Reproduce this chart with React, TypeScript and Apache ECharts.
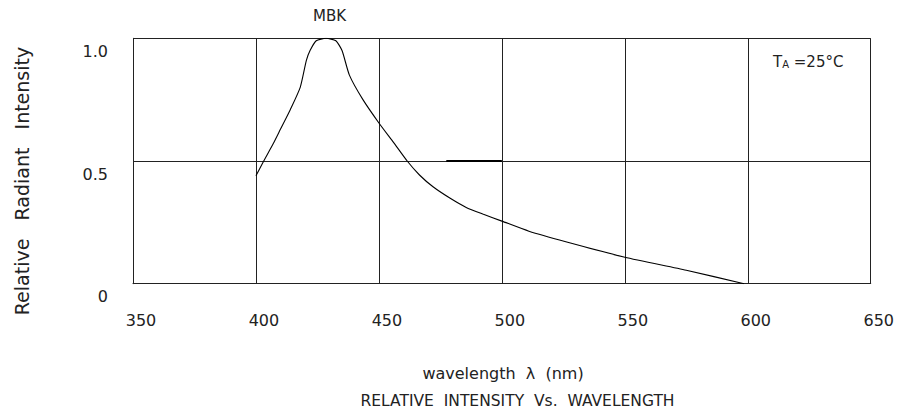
import React, { useEffect, useRef } from "react";
import * as echarts from "echarts";

const wavelengths = [400, 403, 407, 410, 414, 418, 420.5, 422, 424.5, 428.5, 432.5, 435, 438, 443.5, 450, 456, 461.5, 466.5, 472, 479, 485.5, 492.5, 500, 511, 526, 550, 575, 598.5];
const intensity = [0.44, 0.497, 0.57, 0.63, 0.71, 0.8, 0.91, 0.95, 0.99, 1.0, 0.99, 0.95, 0.85, 0.75, 0.655, 0.575, 0.5, 0.443, 0.395, 0.348, 0.311, 0.283, 0.255, 0.214, 0.171, 0.108, 0.055, 0.0];
const markX = [477.4, 500];
const markY = [0.5, 0.5];
const xTicks = [350, 400, 450, 500, 550, 600, 650];
const yTicks = [0, 0.5, 1.0];
const yTickLabels = ["0", "0.5", "1.0"];

const FONT = "DejaVu Sans";
const INK = "#222";

export default function App() {
  const ref = useRef<HTMLDivElement>(null);
  useEffect(() => {
    if (!ref.current) return;
    const chart = echarts.init(ref.current, undefined, { renderer: "svg" });
    const curve = wavelengths.map((w, i) => [w, intensity[i]]);
    const mark = markX.map((w, i) => [w, markY[i]]);
    chart.setOption({
      animation: false,
      backgroundColor: "#fff",
      textStyle: { fontFamily: FONT },
      grid: { left: 133, right: 25.3, top: 38.3, bottom: 133.3, containLabel: false },
      xAxis: {
        type: "value",
        min: xTicks[0],
        max: xTicks[xTicks.length - 1],
        interval: 50,
        axisLine: { show: true, lineStyle: { color: INK, width: 1 } },
        axisTick: { show: false },
        splitLine: { show: true, lineStyle: { color: INK, width: 1 } },
        axisLabel: {
          show: true,
          margin: 29,
          fontSize: 16,
          color: INK,
          fontFamily: FONT,
          padding: [0, 0, 0, 16],
          showMinLabel: true,
          showMaxLabel: true,
        },
      },
      yAxis: {
        type: "value",
        min: 0,
        max: 1,
        interval: 0.5,
        axisLine: { show: true, lineStyle: { color: INK, width: 1 } },
        axisTick: { show: false },
        splitLine: { show: true, lineStyle: { color: INK, width: 1 } },
        axisLabel: {
          margin: 25,
          fontSize: 16,
          color: INK,
          fontFamily: FONT,
          verticalAlign: "top",
          padding: [5, 0, 0, 0],
          formatter: (v: number) => {
            const i = yTicks.findIndex((t) => Math.abs(t - v) < 1e-6);
            return i >= 0 ? yTickLabels[i] : "";
          },
        },
      },
      series: [
        {
          type: "line",
          data: curve,
          smooth: 0.2,
          showSymbol: false,
          symbol: "none",
          lineStyle: { color: "#000", width: 1.1 },
          z: 5,
        },
        {
          type: "line",
          data: mark,
          showSymbol: false,
          symbol: "none",
          lineStyle: { color: "#000", width: 1.8 },
          z: 4,
        },
      ],
      graphic: [
        {
          type: "text",
          left: 313,
          top: 8,
          style: { text: "MBK", fontSize: 15, fontFamily: FONT, fill: INK },
        },
        {
          type: "text",
          left: 773,
          top: 54,
          style: {
            text: "{t|T}{s|A}{t| =25°C}",
            fontFamily: FONT,
            fill: INK,
            rich: {
              t: { fontSize: 15, fontFamily: FONT, fill: INK, verticalAlign: "bottom" },
              s: { fontSize: 10, fontFamily: FONT, fill: INK, verticalAlign: "bottom" },
            },
          },
        },
        {
          type: "text",
          x: 22,
          y: 181,
          rotation: Math.PI / 2,
          style: {
            text: "Relative   Radiant   Intensity",
            fontSize: 19,
            fontFamily: FONT,
            fill: INK,
            align: "center",
            verticalAlign: "middle",
          },
        },
        {
          type: "text",
          x: 503,
          y: 373,
          style: {
            text: "wavelength  λ  (nm)",
            fontSize: 16,
            fontFamily: FONT,
            fill: INK,
            align: "center",
            verticalAlign: "middle",
          },
        },
        {
          type: "text",
          x: 517.5,
          y: 401,
          style: {
            text: "RELATIVE  INTENSITY  Vs.  WAVELENGTH",
            fontSize: 15.5,
            fontFamily: FONT,
            fill: INK,
            align: "center",
            verticalAlign: "middle",
          },
        },
      ],
    });
    return () => chart.dispose();
  }, []);
  return (
    <div
      ref={ref}
      style={{ position: "fixed", left: 0, top: 0, width: 897, height: 417, background: "#fff" }}
    />
  );
}
